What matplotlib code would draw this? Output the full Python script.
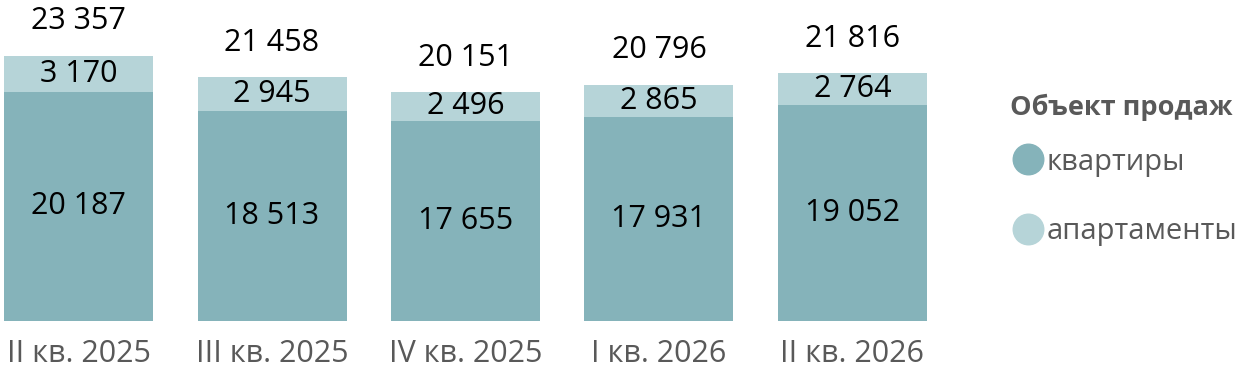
import matplotlib.pyplot as plt
from matplotlib.lines import Line2D

quarters = ['II кв. 2025', 'III кв. 2025', 'IV кв. 2025', 'I кв. 2026', 'II кв. 2026']
flats = [20187, 18513, 17655, 17931, 19052]
apartments = [3170, 2945, 2496, 2865, 2764]
totals = [23357, 21458, 20151, 20796, 21816]

dark = '#85B3BA'
light = '#B6D4D8'
gray = '#595959'

plt.rcParams['font.family'] = ['Open Sans', 'DejaVu Sans']

fig = plt.figure(figsize=(12.48, 3.75), dpi=100)
# axes placed so bars land where they do in the reference
ax = fig.add_axes([0, 54 / 375, 960 / 1248, 321 / 375])

x = range(len(quarters))
ax.bar(x, flats, width=0.77, color=dark, label='квартиры')
ax.bar(x, apartments, width=0.77, bottom=flats, color=light, label='апартаменты')

for i in x:
    ax.text(i, flats[i] / 2, f'{flats[i]:,}'.replace(',', ' '),
            ha='center', va='center', fontsize=22, color='black')
    ax.text(i, flats[i] + apartments[i] / 2, f'{apartments[i]:,}'.replace(',', ' '),
            ha='center', va='center', fontsize=22, color='black')
    ax.annotate(f'{totals[i]:,}'.replace(',', ' '), (i, totals[i]),
                xytext=(0, 25), textcoords='offset points',
                ha='center', va='center', fontsize=22, color='black')

ax.set_xlim(-0.406, 4.556)
ax.set_ylim(0, 28282)
ax.set_xticks(list(x))
ax.set_xticklabels(quarters, fontsize=22, color=gray)
ax.tick_params(axis='x', length=0, pad=13)
ax.set_yticks([])
for s in ax.spines.values():
    s.set_visible(False)

# legend title as its own text, entries below it
fig.text(1010 / 1248, 1 - 107 / 375, 'Объект продаж', fontsize=19.5,
         fontweight='bold', color=gray, ha='left', va='center')
handles = [Line2D([], [], marker='o', linestyle='none', markersize=22, color=dark),
           Line2D([], [], marker='o', linestyle='none', markersize=22, color=light)]
fig.legend(handles, ['квартиры', 'апартаменты'],
           loc='center left', bbox_to_anchor=(1003 / 1248, 1 - 197 / 375),
           frameon=False, fontsize=21,
           handlelength=0.7, handletextpad=0.3, labelspacing=1.4,
           labelcolor=gray, borderpad=0)

fig.savefig('out.png', dpi=100)
